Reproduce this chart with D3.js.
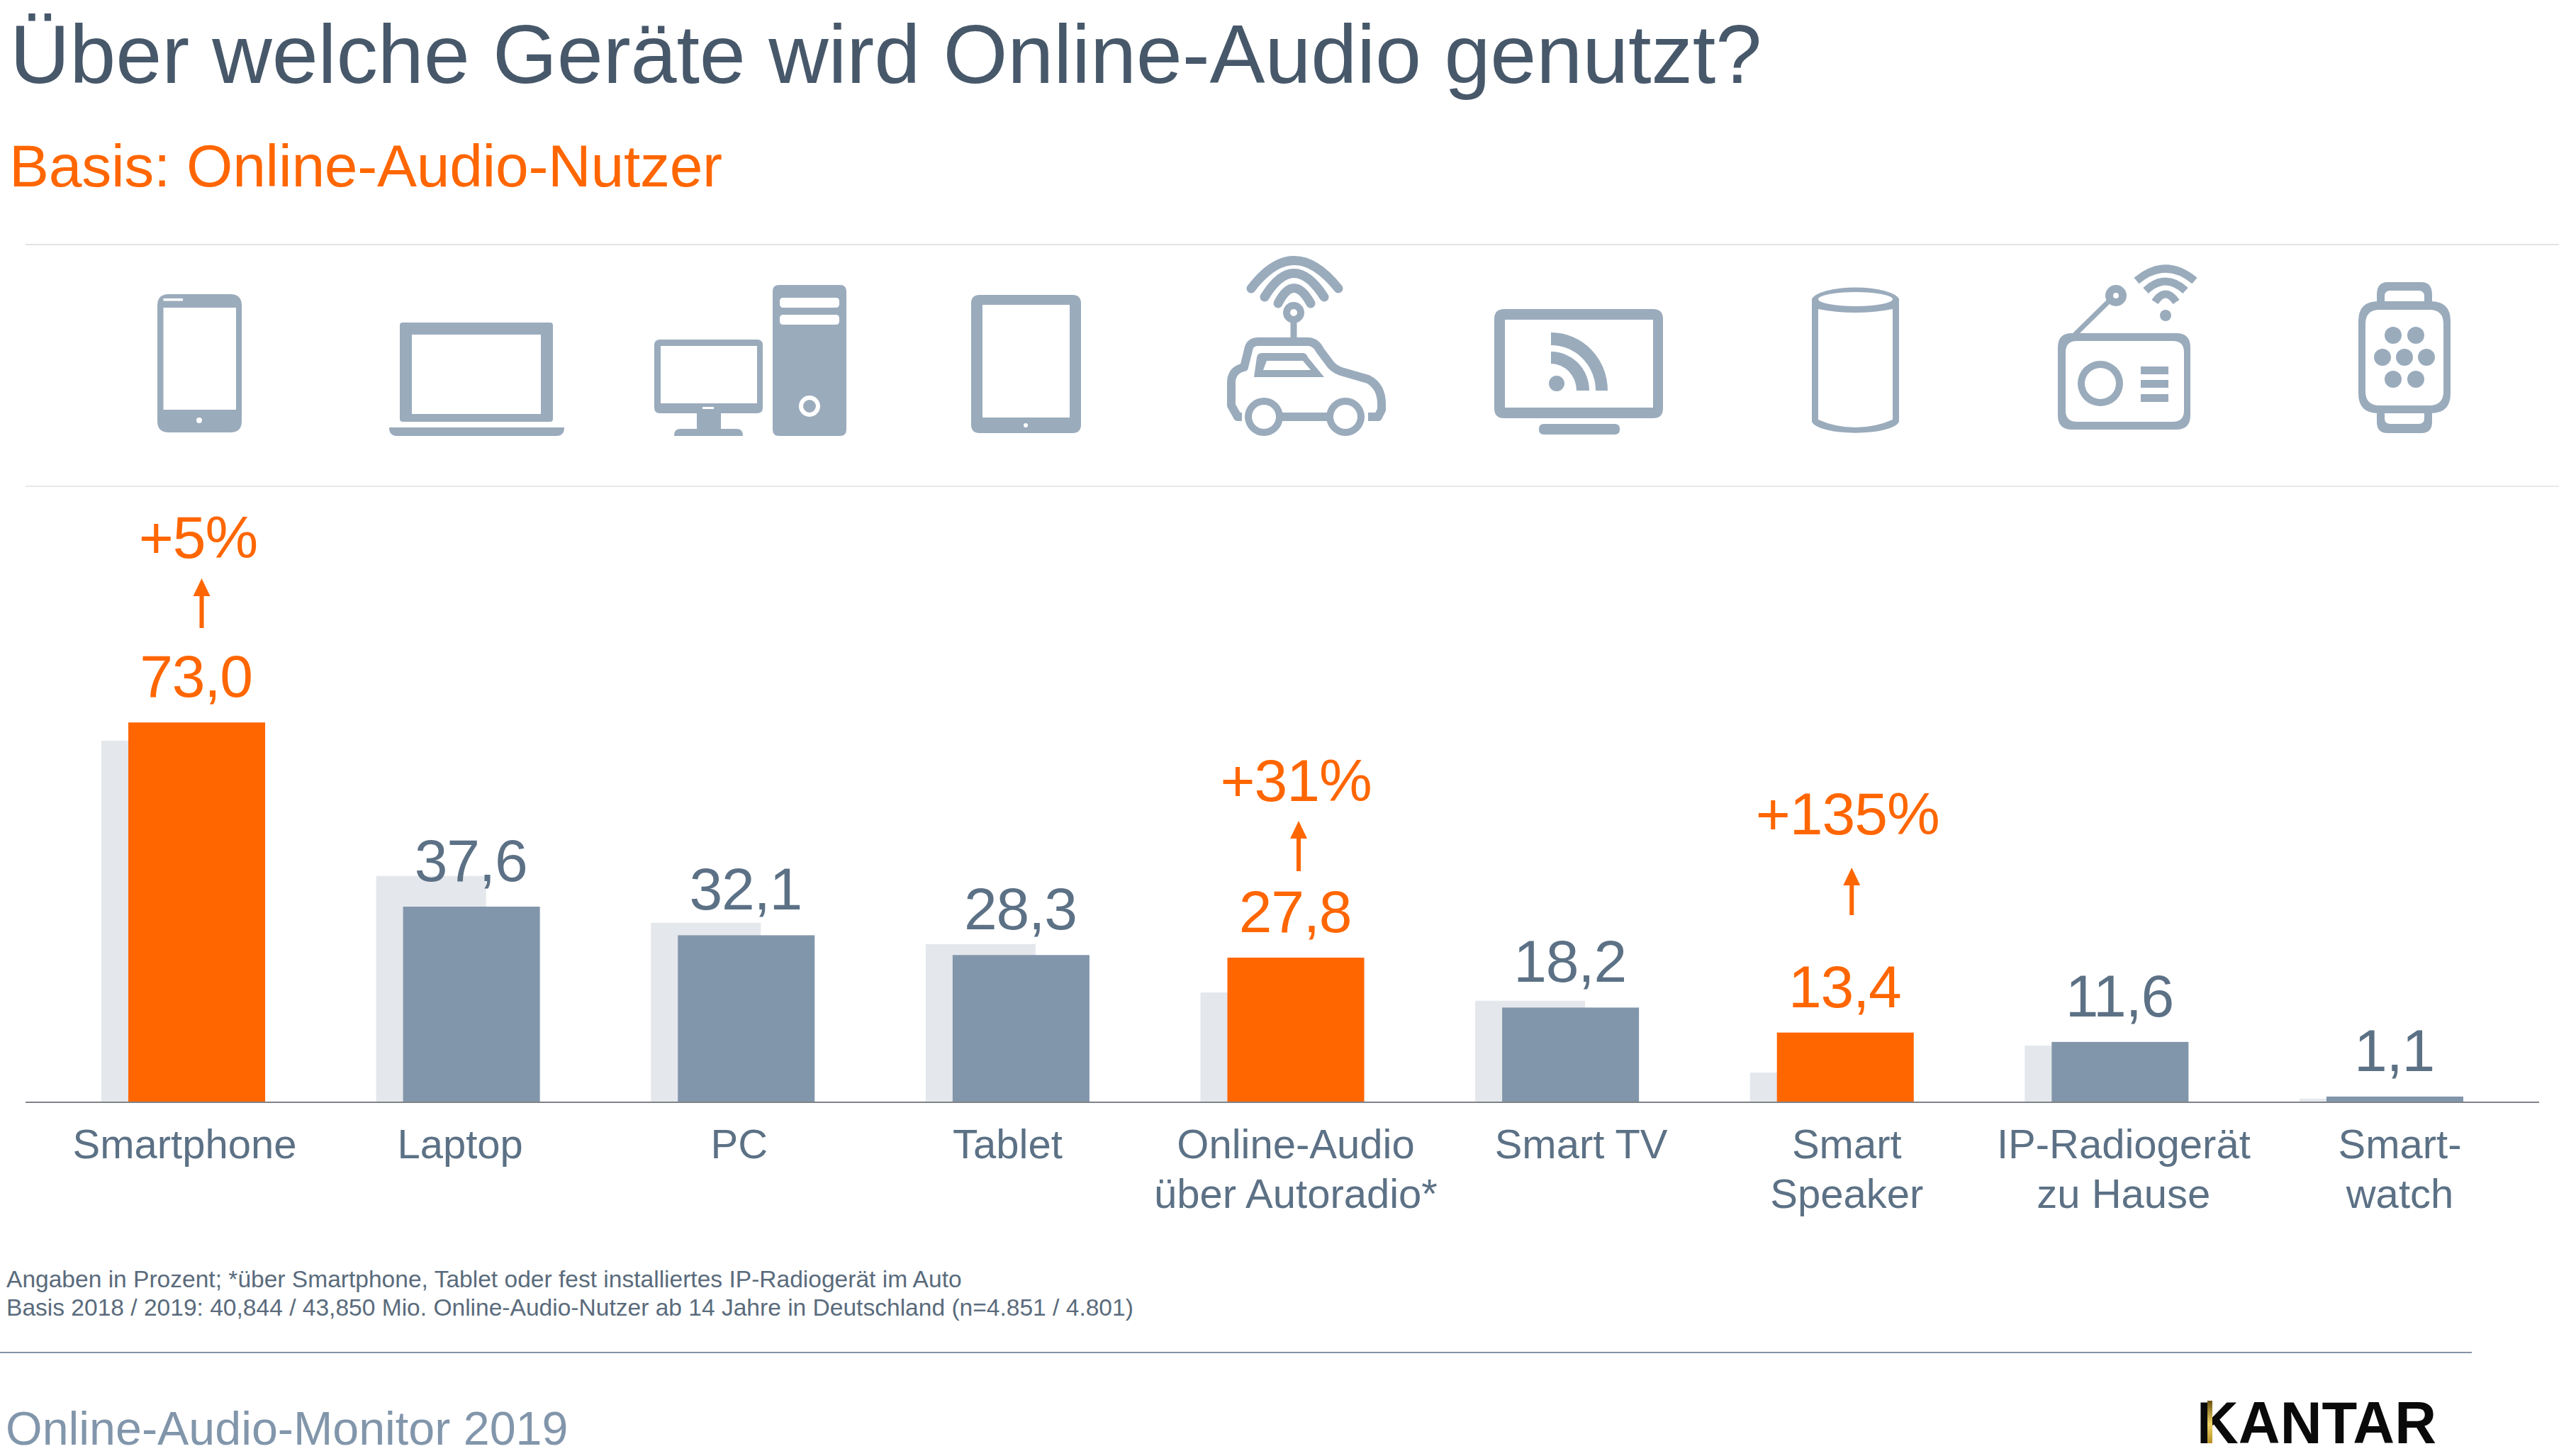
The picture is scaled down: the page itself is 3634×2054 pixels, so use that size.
<!DOCTYPE html>
<html lang="de">
<head>
<meta charset="utf-8">
<title>Über welche Geräte wird Online-Audio genutzt?</title>
<script src="https://d3js.org/d3.v7.min.js"></script>
<style>
html,body{margin:0;padding:0;background:#fff;}
svg{display:block;}
text{font-family:"Liberation Sans",Arial,sans-serif;}
</style>
</head>
<body>
<svg id="chart" width="3634" height="2054" viewBox="0 0 3634 2054"></svg>
<script>
const categories = ["Smartphone","Laptop","PC","Tablet","Online-Audio über Autoradio*","Smart TV","Smart Speaker","IP-Radiogerät zu Hause","Smart-watch"];
const categoryLines = [["Smartphone"],["Laptop"],["PC"],["Tablet"],["Online-Audio","über Autoradio*"],["Smart TV"],["Smart","Speaker"],["IP-Radiogerät","zu Hause"],["Smart-","watch"]];
const values2019 = [73.0,37.6,32.1,28.3,27.8,18.2,13.4,11.6,1.1];
const values2018 = [69.5,43.5,34.5,30.4,21.1,19.5,5.7,10.9,0.7];
const highlighted = ["Smartphone","Online-Audio über Autoradio*","Smart Speaker"];
const growthCategories = ["Smartphone","Online-Audio über Autoradio*","Smart Speaker"];
const growthLabels = ["+5%","+31%","+135%"];

const ORANGE="#ff6600", SLATE="#8296ab", GHOST="#e4e7ec", VALUE="#5c7185", TITLE="#47586a", ICON="#9aabbc", LABEL="#5c7185";
const svg=d3.select("#chart");
const baseY=1555;

// layout tweaks, by category index
const labelShift=[-17,-16,-10,-19,0,15,2,5,7];
const arrowLayout={ "Smartphone":{dx:7,tip:816,end:886,text:787,tdx:2},
  "Online-Audio über Autoradio*":{dx:4,tip:1158,end:1229,text:1130,tdx:0},
  "Smart Speaker":{dx:9,tip:1224,end:1291,text:1177,tdx:3} };

const x=d3.scaleBand().domain(categories).range([181,3475]).paddingInner(0.502).paddingOuter(0).align(0);
const y=d3.scaleLinear().domain([0,100]).range([baseY,baseY-734]);
const rows=categories.map((c,i)=>({c,i,v19:values2019[i],v18:values2018[i],hot:highlighted.includes(c)}));
const fmt=v=>v.toFixed(1).replace(".",",");

function txt(s,px,py,size,fill,anchor){
  return svg.append("text").attr("x",px).attr("y",py).attr("font-size",size).attr("fill",fill).attr("text-anchor",anchor||"start").text(s);
}
function rule(x1,x2,yy,col,w){
  svg.append("line").attr("x1",x1).attr("x2",x2).attr("y1",yy).attr("y2",yy).attr("stroke",col).attr("stroke-width",w);
}

// header
txt("Über welche Geräte wird Online-Audio genutzt?",14,117,117,TITLE).attr("letter-spacing",-0.15);
txt("Basis: Online-Audio-Nutzer",13,263,84,ORANGE).attr("letter-spacing",-0.28);
rule(36,3610,345,"#e3e3e3",2);
rule(36,3610,686,"#e9e9e9",2);

// bars
svg.append("g").selectAll("rect").data(rows).join("rect")
  .attr("x",d=>x(d.c)-38).attr("width",155).attr("y",d=>y(d.v18)).attr("height",d=>baseY-y(d.v18)).attr("fill",GHOST);
svg.append("g").selectAll("rect").data(rows).join("rect")
  .attr("x",d=>x(d.c)).attr("width",x.bandwidth()).attr("y",d=>y(d.v19)).attr("height",d=>baseY-y(d.v19))
  .attr("fill",d=>d.hot?ORANGE:SLATE);

// axis
const axis=svg.append("g").attr("transform",`translate(0,${baseY})`)
  .call(d3.axisBottom(x).tickSize(0).tickFormat(""));
axis.select(".domain").remove();
axis.selectAll(".tick text").remove();
axis.selectAll(".tick").each(function(c){
  const i=categories.indexOf(c);
  const t=d3.select(this).append("text").attr("text-anchor","middle").attr("font-size",58).attr("fill",LABEL).attr("x",labelShift[i]);
  categoryLines[i].forEach((ln,k)=>t.append("tspan").attr("x",labelShift[i]).attr("y",79+k*70).text(ln));
});
rule(36,3582,baseY,"#7f8388",2);

// value labels
svg.append("g").selectAll("text").data(rows).join("text")
  .attr("x",d=>x(d.c)+x.bandwidth()/2-1).attr("y",d=>y(d.v19)-36)
  .attr("text-anchor","middle").attr("font-size",84).attr("letter-spacing",-1.2)
  .attr("fill",d=>d.hot?ORANGE:VALUE).text(d=>fmt(d.v19));

// growth callouts
growthCategories.forEach((c,i)=>{
  const a=arrowLayout[c], cx=x(c)+x.bandwidth()/2;
  txt(growthLabels[i],cx+a.tdx,a.text,84,ORANGE,"middle").attr("letter-spacing",-1);
  const ax=cx+a.dx;
  svg.append("path").attr("fill",ORANGE)
    .attr("d",`M${ax},${a.tip}L${ax+12},${a.tip+25}H${ax+3}V${a.end}H${ax-3}V${a.tip+25}H${ax-12}Z`);
});

// footnotes & footer
txt("Angaben in Prozent; *über Smartphone, Tablet oder fest installiertes IP-Radiogerät im Auto",9,1816,33.55,"#5a6b7c");
txt("Basis 2018 / 2019: 40,844 / 43,850 Mio. Online-Audio-Nutzer ab 14 Jahre in Deutschland (n=4.851 / 4.801)",9,1856,33.55,"#5a6b7c");
rule(0,3487,1908,"#8593a5",2);
txt("Online-Audio-Monitor 2019",8,2038,66.4,SLATE);

// Kantar logo
const defs=svg.append("defs");
const lg=defs.append("linearGradient").attr("id","gold").attr("x1",0).attr("x2",0).attr("y1",0).attr("y2",1);
lg.append("stop").attr("offset",0).attr("stop-color","#6b5310");
lg.append("stop").attr("offset",0.55).attr("stop-color","#f0d468");
lg.append("stop").attr("offset",1).attr("stop-color","#b58f25");
svg.append("text").attr("x",3099).attr("y",2036).attr("font-size",84).attr("font-weight",700).attr("fill","#0a0a0a")
  .attr("textLength",338).attr("lengthAdjust","spacingAndGlyphs").text("KANTAR");
svg.append("rect").attr("x",3114).attr("y",1976).attr("width",7).attr("height",60).attr("fill","url(#gold)");

// icons
const rr=(x0,y0,x1,y1,r)=>`M${x0+r},${y0}H${x1-r}Q${x1},${y0} ${x1},${y0+r}V${y1-r}Q${x1},${y1} ${x1-r},${y1}H${x0+r}Q${x0},${y1} ${x0},${y1-r}V${y0+r}Q${x0},${y0} ${x0+r},${y0}Z`;
const circ=(cx,cy,r)=>`M${cx-r},${cy}A${r},${r} 0 1 0 ${cx+r},${cy}A${r},${r} 0 1 0 ${cx-r},${cy}Z`;
const icons=svg.append("g");
const fillP=d=>icons.append("path").attr("fill",ICON).attr("fill-rule","evenodd").attr("d",d);
const strokeP=(d,w,cap)=>icons.append("path").attr("fill","none").attr("stroke",ICON).attr("stroke-width",w).attr("stroke-linecap",cap||"butt").attr("stroke-linejoin","round").attr("d",d);

// phone
fillP(rr(222,415,341,610,16)+rr(230.5,434,333,578,0)+rr(230.5,421,258,424.5,0)+circ(281,593,4));
// laptop
fillP(rr(564,455,780,595,4)+rr(581,472,763,584,0));
fillP(`M549,603H796Q796,615 785,615H560Q549,615 549,603Z`);
// desktop
fillP(rr(923,479,1076,583,8)+rr(932,488,1068,569,0)+rr(991,574,1007,577,0));
fillP(`M983,583H1017V605H1040Q1048,605 1048,615H951Q951,605 959,605H983Z`);
fillP(rr(1090,402,1194,615,9)+rr(1100,420,1184,434,5)+rr(1100,444,1184,458,5)+circ(1142,573,15)+circ(1142,573,9));
// tablet
fillP(rr(1370,416,1525,611,12)+rr(1386,430,1509,589,0)+circ(1447,600,3));
// car with antenna
strokeP("M1765,407Q1825,328 1888,407",13,"round");
strokeP("M1784,419Q1825,352 1868,419",13,"round");
strokeP("M1803,428Q1825,385 1849,428",13,"round");
fillP(circ(1825,441,15)+circ(1825,441,5));
strokeP("M1825,452V482",9);
strokeP("M1752,588H1746L1737,572V540Q1737,522 1755,518L1762,490Q1765,482 1775,482H1845Q1856,482 1862,494L1874,510Q1880,520 1892,524L1930,535Q1949,545 1949,570V578L1944,588H1930",12);
strokeP("M1805,588H1880",12);
fillP(circ(1783,588,27)+circ(1783,588,17));
fillP(circ(1898,588,27)+circ(1898,588,17));
fillP("M1780,498H1838Q1843,498 1845,504L1868,532H1769L1773,504Q1774,498 1780,498ZM1787,509L1782,522H1849L1838,509Z");
// TV
fillP(rr(2108,436,2346,590,14)+rr(2123,451,2332,575,0));
fillP(rr(2171,598,2285,613,7));
fillP(circ(2196,541,11));
fillP("M2188,469A80,82 0 0 1 2268,551H2251A63,64 0 0 0 2188,487Z");
fillP("M2188,496A54,55 0 0 1 2242,551H2224A36,38 0 0 0 2188,513Z");
// smart speaker
fillP("M2556,422A62,19 0 0 1 2679,422V595A62,18 0 0 1 2556,595ZM2565,422A52.5,10 0 0 0 2670,422A52.5,10 0 0 0 2565,422ZM2565,436V592Q2590,603 2617,603Q2645,603 2670,592V436Q2645,441 2617,441Q2590,441 2565,436Z");
// radio
fillP(rr(2903,470,3090,606,20)+rr(2914,481,3081,595,16));
fillP(circ(2963,541,32)+circ(2963,541,22));
fillP(rr(3020,517,3059,528,0)); fillP(rr(3020,536,3059,547,0)); fillP(rr(3020,556,3059,567,0));
strokeP("M2927,472L2977,423",7);
fillP(circ(2985,417,15)+circ(2985,417,4));
fillP(circ(3055,445,8));
strokeP("M3014,396Q3055,362 3096,396",11);
strokeP("M3027,410Q3055,384 3083,410",11);
strokeP("M3040,426Q3055,404 3070,426",11);
// watch
fillP(rr(3327,425,3457,583,28)+rr(3337,437,3447,572,20));
fillP("M3353,425V416Q3353,398 3368,398H3416Q3431,398 3431,416V425H3420V418Q3420,410 3412,410H3372Q3364,410 3364,418V425Z");
fillP("M3353,583V595Q3353,611 3368,611H3416Q3431,611 3431,595V583H3420V590Q3420,598 3412,598H3372Q3364,598 3364,590V583Z");
[[3376,473],[3408,473],[3361,504],[3392,504],[3423,504],[3376,535],[3408,535]].forEach(p=>fillP(circ(p[0],p[1],12)));
</script>
</body>
</html>
